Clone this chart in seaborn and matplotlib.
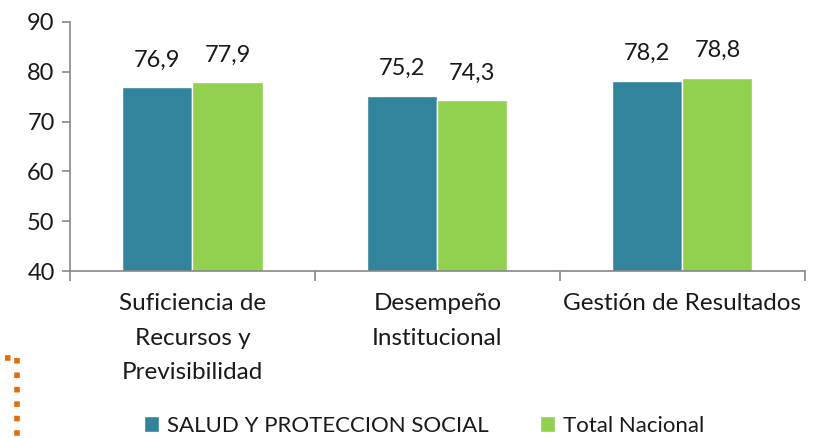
import numpy as np
import pandas as pd
import seaborn as sns
import matplotlib.pyplot as plt
from matplotlib.lines import Line2D

categorias = ["Suficiencia de\nRecursos y\nPrevisibilidad", "Desempeño\nInstitucional", "Gestión de Resultados"]
salud = [76.9, 75.2, 78.2]
nacional = [77.9, 74.3, 78.8]
series = ["SALUD Y PROTECCION SOCIAL", "Total Nacional"]
colores = ["#31849B", "#92D050"]

df = pd.DataFrame({
    "cat": categorias * 2,
    "valor": salud + nacional,
    "serie": [series[0]] * 3 + [series[1]] * 3,
})

sns.set_style("white")
plt.rcParams['font.family'] = ['Lato', 'DejaVu Sans']

fig = plt.figure(figsize=(8.23, 4.38), dpi=100)
ax = fig.add_axes([0.085, 0.381, 0.893, 0.569])

sns.barplot(data=df, x="cat", y="valor", hue="serie", palette=colores,
            width=0.572, gap=0, ax=ax, legend=True, saturation=1)

ax.set_ylim(40, 90)
ax.set_xlim(-0.5, 2.5)
ax.set_yticks(range(40, 91, 10))
ax.set_xlabel("")
ax.set_ylabel("")

# etiquetas con coma decimal
for cont in ax.containers:
    ax.bar_label(cont, labels=[f"{v:.1f}".replace(".", ",") for v in cont.datavalues],
                 padding=12, fontsize=17, color="#1a1a1a")

for s in ["top", "right"]:
    ax.spines[s].set_visible(False)
for s in ["left", "bottom"]:
    ax.spines[s].set_color("#888888")
    ax.spines[s].set_linewidth(1.2)

ax.tick_params(axis="y", length=6, color="#888888", labelsize=17, pad=5, left=True, width=1.2,
               labelcolor="#1a1a1a")
ax.tick_params(axis="x", which="major", length=0, labelsize=17.5, pad=16, labelcolor="#1a1a1a")
ax.set_xticks([0.5, 1.5, 2.5, -0.5], minor=True)
ax.tick_params(axis="x", which="minor", length=7, color="#888888", width=1.2, bottom=True)
for lbl in ax.get_xticklabels():
    lbl.set_linespacing(1.78)

ax.legend(loc="upper center", bbox_to_anchor=(0.482, -0.5), ncol=2, frameon=False,
          fontsize=16, handlelength=0.7, handleheight=0.7, handletextpad=0.35,
          columnspacing=2.3, labelcolor="#1a1a1a")

# linea punteada naranja decorativa
fig.add_artist(Line2D([5 / 823, 17 / 823], [1 - 358 / 438, 1 - 358 / 438], transform=fig.transFigure,
                      color="#E46C0A", lw=4, linestyle=(0, (1, 1.6))))
fig.add_artist(Line2D([17 / 823, 17 / 823], [1 - 358 / 438, 0], transform=fig.transFigure,
                      color="#E46C0A", lw=4, linestyle=(0, (1, 1.6))))

fig.savefig("out.png", dpi=100)
